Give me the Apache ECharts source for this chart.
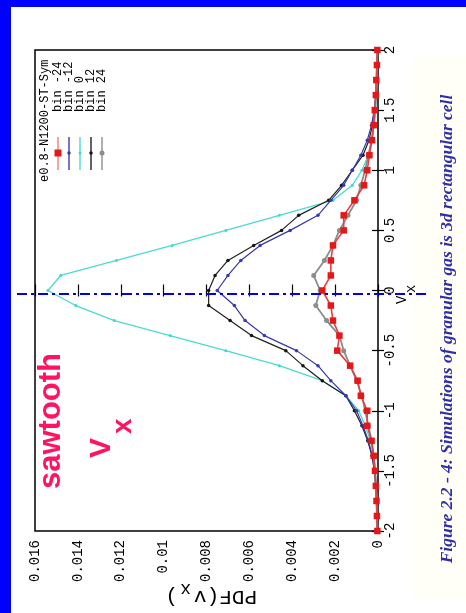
<!DOCTYPE html>
<html>
<head>
<meta charset="utf-8">
<script src="https://cdn.jsdelivr.net/npm/echarts@6/dist/echarts.min.js"></script>
<style>
html,body{margin:0;padding:0;background:#0000FF;}
#chart{position:absolute;left:0;top:0;width:466px;height:613px;}
</style>
</head>
<body>
<div id="chart"></div>
<script>
// Vx values (grid of the histogram bins)
const vx = [-2, -1.875, -1.75, -1.625, -1.5, -1.375, -1.25, -1.125, -1, -0.875, -0.75, -0.625, -0.5, -0.375, -0.25, -0.125, 0,
            0.125, 0.25, 0.375, 0.5, 0.625, 0.75, 0.875, 1, 1.125, 1.25, 1.375, 1.5, 1.625, 1.75, 1.875, 2];
// PDF(vx) for each bin
const pdfBinM24 = [0.00003,0.00005,0.00007,0.0001,0.00014,0.0002,0.0003,0.0005,0.0005,0.0008,0.00095,0.0013,0.0019,0.0018,0.0021,0.0022,0.0026,
                   0.0022,0.0022,0.0021,0.0016,0.0016,0.0011,0.00065,0.0005,0.0004,0.00028,0.0002,0.00015,0.0001,0.00008,0.00005,0.00003];
const pdfBinM12 = [0.00002,0.00004,0.00006,0.0001,0.00016,0.00026,0.00045,0.0007,0.001,0.0015,0.0022,0.0028,0.0038,0.0053,0.0062,0.0067,0.0075,
                   0.007,0.0064,0.0055,0.0041,0.0028,0.0022,0.0016,0.0012,0.0008,0.0005,0.0003,0.00018,0.00011,0.00007,0.00004,0.00002];
const pdfBin0   = [0.00002,0.00003,0.00005,0.00008,0.00012,0.0002,0.00035,0.0006,0.0009,0.0015,0.0026,0.0046,0.0071,0.0097,0.0123,0.0141,0.0154,
                   0.0148,0.0122,0.0096,0.0071,0.0046,0.0021,0.0012,0.00075,0.00045,0.00028,0.00018,0.00011,0.00007,0.00004,0.00003,0.00002];
const pdfBinP12 = [0.00002,0.00004,0.00007,0.00011,0.00017,0.00028,0.00048,0.00075,0.0011,0.0015,0.0026,0.0035,0.0043,0.0059,0.0069,0.0079,0.0079,
                   0.0076,0.007,0.0058,0.0045,0.0037,0.0023,0.0017,0.0012,0.0007,0.00042,0.00026,0.00016,0.0001,0.00006,0.00004,0.00002];
const pdfBinP24 = [0.00003,0.00005,0.00007,0.0001,0.00014,0.0002,0.0003,0.00045,0.0006,0.00075,0.001,0.0013,0.0016,0.0018,0.0024,0.0029,0.0027,
                   0.003,0.0025,0.0021,0.0018,0.0014,0.001,0.0008,0.0006,0.00045,0.0003,0.0002,0.00014,0.0001,0.00007,0.00005,0.00003];

const seriesNames = ['bin -24', 'bin -12', 'bin 0', 'bin 12', 'bin 24'];
const legendTitle = 'e0.8-N1200-ST-Sym';
const captionText = 'Figure 2.2 - 4: Simulations of granular gas is 3d rectangular cell';

const allPdf = [pdfBinM24, pdfBinM12, pdfBin0, pdfBinP12, pdfBinP24];
const styles = [
  {color:'#E41818', line:'#E64040', width:1.6, symbol:'rect', size:6.5, z:6},
  {color:'#3838B0', line:'#3838B0', width:1.2, symbol:'circle', size:3.5, z:4},
  {color:'#3FD8CC', line:'#48DCD0', width:1.3, symbol:'circle', size:3, z:2},
  {color:'#151515', line:'#202020', width:1.2, symbol:'circle', size:3.5, z:3},
  {color:'#8C8C8C', line:'#8C8C8C', width:1.8, symbol:'circle', size:5, z:5}
];

const series = allPdf.map((arr, i) => ({
  name: seriesNames[i],
  type: 'line',
  xAxisIndex: 0, yAxisIndex: 0,
  data: arr.map((p, k) => [p, vx[k]]),
  symbol: styles[i].symbol,
  symbolSize: styles[i].size,
  showSymbol: true,
  z: styles[i].z,
  itemStyle: {color: styles[i].color},
  lineStyle: {color: styles[i].line, width: styles[i].width},
  emphasis: {disabled: true},
  animation: false
}));

const mono = '"Liberation Mono", "DejaVu Sans Mono", monospace';
const graphic = [
  // white panel
  {type:'rect', shape:{x:11, y:7, width:455, height:606}, style:{fill:'#FFFFFF'}, z:-10, silent:true},
  // faint caption backdrop
  {type:'rect', shape:{x:413, y:58, width:53, height:540}, style:{fill:'#FFFEF7'}, z:-9, silent:true},
  // caption
  {type:'text', x:447, y:329, rotation:Math.PI/2, z:10,
   style:{text:captionText, fill:'#2E2EA6', font:'italic bold 17.5px "Liberation Serif", serif', textAlign:'center', textVerticalAlign:'middle'}},
  // blue dash-dot line at Vx = 0
  {type:'line', shape:{x1:17, y1:294, x2:428, y2:294}, z:20,
   style:{stroke:'#0000EE', lineWidth:2, lineDash:[10,4,3,4]}},
  // sawtooth label
  {type:'text', x:67, y:489, rotation:Math.PI/2, z:10,
   style:{text:'sawtooth', fill:'#FF1463', font:'bold 31px "Liberation Sans", Arial, sans-serif', textAlign:'left', textVerticalAlign:'bottom'}},
  {type:'text', x:117, y:458, rotation:Math.PI/2, z:10,
   style:{text:'V', fill:'#FF1463', font:'bold 30px "Liberation Sans", Arial, sans-serif', textAlign:'left', textVerticalAlign:'bottom'}},
  {type:'text', x:137, y:434, rotation:Math.PI/2, z:10,
   style:{text:'x', fill:'#FF1463', font:'bold 28px "Liberation Sans", Arial, sans-serif', textAlign:'left', textVerticalAlign:'bottom'}},
  // Vx axis title
  {type:'text', x:409, y:304, rotation:Math.PI/2, z:10,
   style:{text:'V', fill:'#000', font:'14px ' + mono, textAlign:'left', textVerticalAlign:'bottom'}},
  {type:'text', x:418, y:293, rotation:Math.PI/2, z:10,
   style:{text:'x', fill:'#000', font:'14px ' + mono, textAlign:'left', textVerticalAlign:'bottom'}},
  // PDF axis title (upside down)
  {type:'text', x:257, y:586, rotation:Math.PI, z:10,
   style:{text:'PDF(v', fill:'#000', font:'21px ' + mono, textAlign:'left', textVerticalAlign:'bottom'}},
  {type:'text', x:191, y:580, rotation:Math.PI, z:10,
   style:{text:'x', fill:'#000', font:'18px ' + mono, textAlign:'left', textVerticalAlign:'bottom'}},
  {type:'text', x:178, y:586, rotation:Math.PI, z:10,
   style:{text:')', fill:'#000', font:'21px ' + mono, textAlign:'left', textVerticalAlign:'bottom'}},
  // legend title
  {type:'text', x:45, y:182, rotation:Math.PI/2, z:10,
   style:{text:legendTitle, fill:'#000', font:'12px ' + mono, textAlign:'left', textVerticalAlign:'middle'}}
];
seriesNames.forEach((n, i) => {
  const cx = 58 + 11 * i;
  const s = styles[i];
  const lineCol = i === 0 ? '#F08070' : (i === 4 ? '#A8A8A8' : s.line);
  graphic.push({type:'line', shape:{x1:cx, y1:137, x2:cx, y2:170}, z:10, style:{stroke:lineCol, lineWidth: i===4 ? 1.8 : 1.4}});
  if (s.symbol === 'rect') {
    graphic.push({type:'rect', shape:{x:cx-3.5, y:149.5, width:7, height:7}, z:11, style:{fill:s.color}});
  } else {
    graphic.push({type:'circle', shape:{cx:cx, cy:153, r:s.size/2}, z:11, style:{fill:s.color}});
  }
  graphic.push({type:'text', x:cx, y:112, rotation:Math.PI/2, z:10,
    style:{text:n, fill:'#000', font:'12px ' + mono, textAlign:'left', textVerticalAlign:'middle'}});
});

const chart = echarts.init(document.getElementById('chart'), null, {renderer:'canvas'});
const tickStyle = {show:true, inside:true, length:6, lineStyle:{color:'#000', width:1.2}};
chart.setOption({
  animation: false,
  backgroundColor: 'transparent',
  grid: {left:35, top:50, right:88, bottom:82, show:true, borderColor:'#000', borderWidth:1.5, backgroundColor:'transparent', z:1},
  xAxis: [
    {type:'value', min:0, max:0.016, interval:0.002, inverse:true, position:'bottom',
     axisLine:{show:false}, axisTick:tickStyle, splitLine:{show:false},
     axisLabel:{rotate:90, fontFamily:mono, fontSize:14, color:'#000', margin:9}},
    {type:'value', min:0, max:0.016, interval:0.002, inverse:true, position:'top',
     axisLine:{show:false}, axisTick:tickStyle, splitLine:{show:false}, axisLabel:{show:false}}
  ],
  yAxis: [
    {type:'value', min:-2, max:2, interval:0.5, position:'right',
     axisLine:{show:false}, axisTick:tickStyle, splitLine:{show:false},
     axisLabel:{rotate:90, fontFamily:mono, fontSize:14, color:'#000', margin:5}},
    {type:'value', min:-2, max:2, interval:0.5, position:'left',
     axisLine:{show:false}, axisTick:tickStyle, splitLine:{show:false}, axisLabel:{show:false}}
  ],
  series: series,
  graphic: graphic
});
</script>
</body>
</html>
